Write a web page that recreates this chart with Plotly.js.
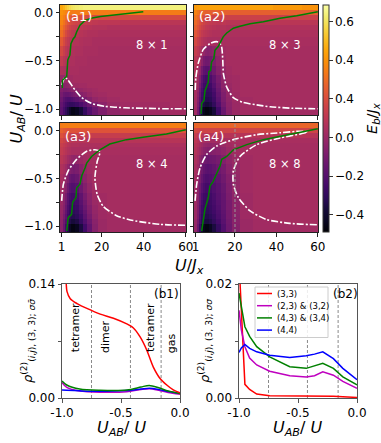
<!DOCTYPE html>
<html><head><meta charset="utf-8">
<script src="https://cdn.plot.ly/plotly-3.0.1.min.js"></script>
<style>html,body{margin:0;padding:0;background:#fff;overflow:hidden}#chart{width:381px;height:443px}</style>
</head><body><div id="chart"></div>
<script>
// ---------------- DATA ----------------
// heat-map grid (cell edges, data units)
const edgesU = [0.2,1.5,2.5,3.5,4.5,5.5,6.5,7.5,9,11,13,15.5,18.5,22.5,28.5,38.5,52.5,60.2];      // U/Jx
const edgesUAB = [-1.06,-0.975,-0.925,-0.875,-0.825,-0.775,-0.725,-0.65,-0.55,-0.45,-0.35,-0.25,-0.175,-0.125,-0.075,-0.025,0.025,0.08]; // U_AB/U
// rows bottom (-1.0) to top (0.05); columns U/Jx = 1,2,3,4,5,6,7,8,10,12,14,17,20,25,32,45,60
const Eb_8x1 = [
[-0.18,-0.24,-0.30,-0.35,-0.41,-0.45,-0.45,-0.43,-0.37,-0.29,-0.21,-0.14,-0.08,-0.03,0.00,0.01,0.02],
[-0.16,-0.21,-0.25,-0.28,-0.30,-0.30,-0.29,-0.27,-0.23,-0.19,-0.14,-0.08,-0.04,0.00,0.02,0.02,0.03],
[-0.13,-0.18,-0.21,-0.22,-0.22,-0.21,-0.19,-0.17,-0.14,-0.10,-0.06,-0.02,0.00,0.02,0.03,0.03,0.03],
[-0.10,-0.14,-0.15,-0.15,-0.14,-0.12,-0.10,-0.09,-0.06,-0.04,-0.01,0.01,0.02,0.03,0.03,0.03,0.03],
[-0.07,-0.09,-0.09,-0.08,-0.07,-0.05,-0.04,-0.03,-0.01,0.00,0.01,0.02,0.03,0.03,0.03,0.03,0.03],
[-0.04,-0.05,-0.04,-0.03,-0.01,0.00,0.01,0.01,0.02,0.02,0.03,0.03,0.03,0.03,0.03,0.03,0.03],
[-0.01,-0.01,0.00,0.01,0.02,0.02,0.03,0.03,0.03,0.03,0.03,0.03,0.03,0.03,0.03,0.03,0.03],
[0.06,0.05,0.04,0.04,0.04,0.04,0.04,0.04,0.03,0.03,0.03,0.03,0.03,0.03,0.03,0.03,0.03],
[0.12,0.09,0.07,0.06,0.05,0.05,0.05,0.04,0.04,0.04,0.03,0.03,0.03,0.03,0.03,0.03,0.03],
[0.18,0.14,0.10,0.08,0.07,0.06,0.06,0.05,0.05,0.04,0.04,0.04,0.03,0.03,0.03,0.03,0.03],
[0.24,0.19,0.14,0.11,0.09,0.08,0.07,0.07,0.06,0.05,0.05,0.04,0.04,0.04,0.04,0.04,0.04],
[0.30,0.25,0.19,0.15,0.13,0.11,0.10,0.09,0.08,0.07,0.06,0.06,0.05,0.05,0.05,0.05,0.05],
[0.33,0.28,0.23,0.19,0.16,0.14,0.13,0.12,0.10,0.09,0.08,0.07,0.07,0.06,0.06,0.06,0.06],
[0.36,0.32,0.27,0.23,0.20,0.18,0.17,0.16,0.14,0.13,0.12,0.11,0.10,0.10,0.09,0.09,0.09],
[0.38,0.35,0.31,0.28,0.26,0.24,0.23,0.22,0.21,0.20,0.19,0.19,0.18,0.18,0.18,0.18,0.18],
[0.40,0.38,0.36,0.35,0.34,0.34,0.34,0.34,0.34,0.34,0.34,0.34,0.34,0.34,0.34,0.34,0.34],
[0.45,0.48,0.52,0.55,0.58,0.60,0.61,0.62,0.63,0.64,0.64,0.64,0.64,0.64,0.64,0.64,0.64]];
const Eb_8x3 = [
[0.02,-0.10,-0.24,-0.36,-0.44,-0.46,-0.46,-0.44,-0.37,-0.26,-0.14,-0.05,0.00,0.02,0.02,0.02,0.02],
[0.03,-0.08,-0.20,-0.30,-0.35,-0.37,-0.37,-0.35,-0.30,-0.21,-0.11,-0.04,0.00,0.02,0.02,0.03,0.03],
[0.03,-0.06,-0.17,-0.27,-0.32,-0.33,-0.33,-0.32,-0.27,-0.18,-0.09,-0.03,0.01,0.02,0.03,0.03,0.03],
[0.04,-0.04,-0.15,-0.25,-0.30,-0.31,-0.31,-0.30,-0.25,-0.16,-0.08,-0.02,0.01,0.03,0.03,0.03,0.03],
[0.04,-0.02,-0.13,-0.23,-0.28,-0.29,-0.29,-0.28,-0.23,-0.14,-0.06,-0.01,0.02,0.03,0.03,0.03,0.03],
[0.05,0.00,-0.10,-0.20,-0.26,-0.27,-0.27,-0.26,-0.20,-0.12,-0.04,0.00,0.02,0.03,0.03,0.03,0.03],
[0.05,0.01,-0.07,-0.17,-0.23,-0.25,-0.25,-0.23,-0.17,-0.10,-0.03,0.01,0.02,0.03,0.03,0.03,0.03],
[0.07,0.04,-0.02,-0.11,-0.17,-0.19,-0.19,-0.17,-0.12,-0.06,-0.01,0.02,0.03,0.03,0.03,0.03,0.03],
[0.09,0.07,0.03,-0.04,-0.10,-0.12,-0.12,-0.11,-0.08,-0.03,0.01,0.03,0.03,0.03,0.03,0.03,0.03],
[0.13,0.10,0.07,0.03,-0.02,-0.05,-0.06,-0.05,-0.03,0.00,0.02,0.03,0.03,0.03,0.03,0.03,0.03],
[0.18,0.14,0.11,0.08,0.06,0.05,0.04,0.04,0.04,0.04,0.04,0.04,0.04,0.04,0.04,0.04,0.04],
[0.23,0.19,0.15,0.12,0.10,0.09,0.08,0.07,0.06,0.06,0.05,0.05,0.05,0.05,0.05,0.05,0.05],
[0.26,0.22,0.18,0.15,0.13,0.11,0.10,0.09,0.08,0.07,0.07,0.06,0.06,0.06,0.06,0.06,0.06],
[0.29,0.25,0.21,0.18,0.16,0.14,0.13,0.12,0.11,0.10,0.10,0.09,0.09,0.09,0.09,0.09,0.09],
[0.32,0.29,0.25,0.22,0.20,0.19,0.18,0.17,0.16,0.16,0.15,0.15,0.15,0.15,0.15,0.15,0.15],
[0.36,0.33,0.30,0.28,0.27,0.26,0.26,0.26,0.26,0.26,0.26,0.26,0.26,0.26,0.26,0.26,0.26],
[0.42,0.43,0.44,0.44,0.44,0.44,0.44,0.44,0.44,0.44,0.44,0.44,0.44,0.44,0.44,0.42,0.40]];
const Eb_8x4 = [
[-0.05,-0.14,-0.25,-0.34,-0.42,-0.46,-0.46,-0.44,-0.36,-0.26,-0.16,-0.06,0.00,0.02,0.02,0.02,0.02],
[-0.04,-0.12,-0.21,-0.29,-0.34,-0.37,-0.37,-0.35,-0.29,-0.21,-0.13,-0.05,0.00,0.02,0.02,0.03,0.03],
[-0.03,-0.10,-0.18,-0.26,-0.31,-0.33,-0.33,-0.31,-0.26,-0.18,-0.10,-0.03,0.01,0.02,0.03,0.03,0.03],
[-0.02,-0.08,-0.16,-0.24,-0.29,-0.31,-0.31,-0.29,-0.23,-0.16,-0.08,-0.02,0.01,0.03,0.03,0.03,0.03],
[-0.01,-0.06,-0.14,-0.22,-0.27,-0.29,-0.29,-0.27,-0.21,-0.14,-0.07,-0.01,0.02,0.03,0.03,0.03,0.03],
[0.00,-0.05,-0.12,-0.20,-0.25,-0.27,-0.27,-0.25,-0.19,-0.12,-0.05,0.00,0.02,0.03,0.03,0.03,0.03],
[0.01,-0.04,-0.10,-0.18,-0.23,-0.25,-0.25,-0.23,-0.17,-0.10,-0.04,0.01,0.02,0.03,0.03,0.03,0.03],
[0.02,-0.01,-0.06,-0.13,-0.19,-0.21,-0.21,-0.19,-0.13,-0.07,-0.02,0.02,0.03,0.03,0.03,0.03,0.03],
[0.04,0.01,-0.03,-0.08,-0.14,-0.16,-0.16,-0.14,-0.09,-0.04,0.00,0.03,0.03,0.03,0.03,0.03,0.03],
[0.06,0.04,0.01,-0.03,-0.07,-0.09,-0.10,-0.09,-0.05,-0.01,0.02,0.03,0.03,0.03,0.03,0.03,0.03],
[0.09,0.07,0.05,0.02,0.00,-0.02,-0.03,-0.02,0.00,0.02,0.03,0.03,0.03,0.03,0.03,0.03,0.03],
[0.12,0.10,0.08,0.06,0.05,0.04,0.04,0.04,0.04,0.04,0.04,0.04,0.04,0.04,0.04,0.04,0.04],
[0.14,0.12,0.10,0.08,0.07,0.06,0.06,0.06,0.05,0.05,0.05,0.05,0.05,0.05,0.05,0.05,0.05],
[0.17,0.15,0.13,0.11,0.10,0.09,0.09,0.08,0.08,0.08,0.08,0.08,0.08,0.08,0.08,0.08,0.08],
[0.21,0.19,0.17,0.15,0.14,0.13,0.13,0.13,0.13,0.13,0.13,0.13,0.13,0.13,0.13,0.13,0.13],
[0.26,0.24,0.23,0.22,0.22,0.22,0.22,0.22,0.22,0.22,0.22,0.22,0.22,0.22,0.22,0.22,0.22],
[0.34,0.35,0.35,0.35,0.35,0.35,0.35,0.35,0.35,0.35,0.35,0.35,0.35,0.35,0.35,0.35,0.35]];
const Eb_8x8 = [
[-0.02,-0.14,-0.28,-0.38,-0.44,-0.46,-0.46,-0.43,-0.36,-0.29,-0.21,-0.13,-0.06,0.00,0.02,0.02,0.02],
[-0.01,-0.11,-0.23,-0.31,-0.35,-0.36,-0.36,-0.34,-0.30,-0.25,-0.19,-0.12,-0.05,0.00,0.02,0.03,0.03],
[0.00,-0.09,-0.21,-0.29,-0.32,-0.33,-0.33,-0.31,-0.28,-0.23,-0.18,-0.11,-0.05,0.01,0.03,0.03,0.03],
[0.00,-0.08,-0.19,-0.27,-0.30,-0.31,-0.31,-0.29,-0.26,-0.22,-0.17,-0.11,-0.04,0.01,0.03,0.03,0.03],
[0.01,-0.07,-0.18,-0.26,-0.29,-0.30,-0.30,-0.28,-0.25,-0.21,-0.16,-0.10,-0.04,0.01,0.03,0.03,0.03],
[0.01,-0.06,-0.16,-0.24,-0.28,-0.29,-0.29,-0.27,-0.24,-0.20,-0.16,-0.10,-0.04,0.01,0.03,0.03,0.03],
[0.02,-0.05,-0.14,-0.22,-0.26,-0.27,-0.27,-0.26,-0.23,-0.19,-0.15,-0.09,-0.03,0.01,0.03,0.03,0.03],
[0.02,-0.04,-0.12,-0.19,-0.23,-0.25,-0.25,-0.24,-0.21,-0.18,-0.14,-0.08,-0.02,0.02,0.03,0.03,0.03],
[0.03,-0.02,-0.09,-0.15,-0.20,-0.22,-0.22,-0.21,-0.19,-0.16,-0.12,-0.07,-0.02,0.02,0.03,0.03,0.03],
[0.04,0.00,-0.06,-0.12,-0.16,-0.18,-0.19,-0.18,-0.16,-0.13,-0.10,-0.05,-0.01,0.02,0.03,0.03,0.03],
[0.05,0.02,-0.03,-0.07,-0.11,-0.13,-0.14,-0.13,-0.12,-0.10,-0.07,-0.03,0.00,0.02,0.03,0.03,0.03],
[0.07,0.04,0.01,-0.02,-0.05,-0.06,-0.07,-0.07,-0.06,-0.05,-0.03,0.00,0.02,0.03,0.03,0.03,0.03],
[0.08,0.06,0.03,0.01,-0.01,-0.02,-0.03,-0.03,-0.02,-0.01,0.00,0.02,0.03,0.03,0.03,0.03,0.03],
[0.10,0.08,0.06,0.04,0.03,0.02,0.02,0.02,0.02,0.03,0.03,0.04,0.04,0.04,0.04,0.04,0.04],
[0.13,0.11,0.10,0.09,0.08,0.08,0.08,0.08,0.08,0.08,0.08,0.08,0.08,0.08,0.08,0.08,0.08],
[0.18,0.17,0.16,0.16,0.16,0.16,0.16,0.16,0.16,0.16,0.16,0.16,0.16,0.16,0.16,0.16,0.16],
[0.28,0.28,0.28,0.28,0.28,0.28,0.28,0.28,0.28,0.28,0.28,0.28,0.28,0.28,0.28,0.28,0.28]];

// green lines (U/Jx, U_AB/U)
const g1x = [1.3,1.4,3.4,3.9,4.9,5.4,6.5,7.3,8.1,9.7,12.1,15.5,19.5,25,31,39.8];
const g1y = [-0.78,-0.70,-0.66,-0.49,-0.44,-0.32,-0.27,-0.25,-0.20,-0.13,-0.08,-0.055,-0.04,-0.025,-0.01,0.01];
const g2x = [3.6,3.9,5.0,5.5,7.1,7.4,8.2,8.7,9.8,10.3,11.9,12.7,14.3,16,19.2,22.4,27.3,33.7,41.8,49.8,60.0];
const g2y = [-1.05,-0.94,-0.91,-0.81,-0.72,-0.61,-0.60,-0.51,-0.475,-0.39,-0.35,-0.32,-0.25,-0.21,-0.16,-0.14,-0.115,-0.094,-0.058,-0.031,0.01];
const g3x = [3.4,4.1,5.7,6.2,7.8,8.1,9.7,10.5,12.1,12.9,15.2,19.2,23.9,31.8,39.7,50.8,60.0];
const g3y = [-1.05,-0.91,-0.875,-0.75,-0.70,-0.60,-0.56,-0.475,-0.39,-0.34,-0.27,-0.20,-0.14,-0.094,-0.07,-0.035,0.01];
const g4x = [3.9,4.7,5.5,7.1,7.9,9.5,11.2,12.8,13.6,16,19.2,25.7,33.7,41.8,49.8,60.0];
const g4y = [-1.05,-0.94,-0.82,-0.70,-0.58,-0.53,-0.44,-0.37,-0.30,-0.27,-0.20,-0.146,-0.094,-0.058,-0.024,0.02];
// white dash-dot lines
const w1x = [1.0,2.6,4.1,7.3,10.5,15.2,21.5,31,40,50,60];
const w1y = [-0.75,-0.67,-0.70,-0.80,-0.88,-0.94,-0.97,-0.985,-0.99,-0.995,-0.995];
const w2x = [0.8,1.1,2.3,4.7,7.9,11.0,12.5,13.6,14.1,14.4,16,19.2,24,32,37,48,60];
const w2y = [-0.80,-0.67,-0.52,-0.38,-0.32,-0.30,-0.31,-0.36,-0.49,-0.63,-0.77,-0.88,-0.93,-0.96,-0.975,-0.99,-0.995];
const w3x = [1.0,1.8,4.1,8.1,12.9,16.8,19.2,17.9,16.8,17.9,20.7,27.1,35,47.7,60];
const w3y = [-0.735,-0.56,-0.42,-0.30,-0.215,-0.20,-0.22,-0.32,-0.49,-0.67,-0.79,-0.89,-0.94,-0.98,-0.99];
const w4x = [0.7,1.5,3.1,6.3,11.2,19.2,30.5,41.8,51.4,55,52,41.8,30.5,22.4,19.2,19.2,21.6,27.3,35.3,46.6,60];
const w4y = [-0.735,-0.56,-0.39,-0.25,-0.16,-0.094,-0.042,-0.022,-0.006,-0.014,-0.032,-0.076,-0.146,-0.27,-0.42,-0.56,-0.70,-0.84,-0.93,-0.97,-0.985];
const a4Marker = [20];

// bottom panels
const b1RedX = [-0.967,-0.964,-0.958,-0.93,-0.873,-0.789,-0.676,-0.564,-0.451,-0.395,-0.338,-0.282,-0.226,-0.169,-0.112,-0.057,0.0];
const b1RedY = [0.16,0.14,0.131,0.122,0.116,0.110,0.103,0.098,0.091,0.086,0.075,0.059,0.038,0.024,0.016,0.010,0.0065];
const b1X = [-1.0,-0.96,-0.85,-0.68,-0.45,-0.33,-0.26,-0.18,-0.1,0.0];
const b1Green = [0.021,0.016,0.011,0.0095,0.0098,0.0135,0.0155,0.0125,0.0085,0.0055];
const b1Magenta = [0.019,0.013,0.0085,0.0072,0.0078,0.0105,0.0115,0.0095,0.0068,0.0045];
const b1Blue = [0.0098,0.0095,0.0088,0.0082,0.0092,0.011,0.012,0.0105,0.008,0.0058];
const b2X = [-1.0,-0.98,-0.95,-0.91,-0.85,-0.74,-0.57,-0.43,-0.36,-0.29,-0.2,-0.12,0.0];
const b2Red = [0.024,0.0143,0.0024,0.0015,0.0007,0.0004,0.00035,0.0004,0.0004,0.0004,0.0003,0.0002,0.0001];
const b2Magenta = [0.0154,0.0119,0.009,0.0070,0.0058,0.0047,0.0039,0.0037,0.0039,0.0046,0.0040,0.0029,0.0017];
const b2Green = [0.0184,0.0160,0.0125,0.0108,0.0090,0.0072,0.0055,0.0052,0.0057,0.0061,0.0052,0.0037,0.0023];
const b2Blue = [0.0080,0.0088,0.0094,0.0087,0.0081,0.0075,0.0071,0.0074,0.0077,0.0081,0.0069,0.0052,0.0032];
const phaseBounds = [-0.75,-0.42,-0.16];
const phaseNames = ['tetramer','dimer','tetramer','gas'];
const phaseX = [-0.88,-0.626,-0.245,-0.07];
const phaseY = [0.086,0.075,0.086,0.067];
const legendNames = ['(3,3)','(2,3) & (3,2)','(4,3) & (3,4)','(4,4)'];
const panelNames = ['(a1)','(a2)','(a3)','(a4)'];
const sizeNames = ['8 × 1','8 × 3','8 × 4','8 × 8'];
const cbMin = -0.49, cbMax = 0.686;
const cbTickVals = [-0.4,-0.2,0,0.2,0.4,0.6];
const cbTickText = ['−0.4','−0.2','0.0','0.4','0.4','0.6'];

// ---------------- STYLE ----------------
const W = 381, H = 443;
const PX = p => p / W, PY = p => 1 - p / H;
const FONT = 'DejaVu Sans, Liberation Sans, sans-serif';
const INFERNO = [[0,'#000004'],[0.05,'#0a0722'],[0.1,'#160b39'],[0.15,'#2d0b59'],[0.2,'#420a68'],[0.25,'#57106e'],[0.3,'#6a176e'],[0.35,'#7f1e6c'],[0.4,'#932667'],[0.45,'#a82e5f'],[0.5,'#bc3754'],[0.55,'#cc4248'],[0.6,'#dd513a'],[0.65,'#e8632c'],[0.7,'#f37819'],[0.75,'#f98e09'],[0.8,'#fca50a'],[0.85,'#f9be24'],[0.9,'#f6d746'],[0.95,'#f1ed71'],[1,'#fcffa4']];
const GREEN = '#008000', RED = '#ff0000', MAG = '#bf00bf', BLUE = '#0000ff';
const legendColors = [RED, MAG, GREEN, BLUE];

const colA = [PX(60), PX(186)], colB = [PX(194), PX(318)];
const rowTop = [PY(115), PY(5)], rowMid = [PY(232), PY(123)];
const b1Dom = [PX(62), PX(180)], b2Dom = [PX(239), PX(357)], rowBot = [PY(398), PY(284)];

const tickFont = {family: FONT, size: 12, color: '#000'};
function baseAxis(extra) {
  return Object.assign({showgrid:false, zeroline:false, showline:true, mirror:true,
    linecolor:'#222', linewidth:1, ticks:'outside', ticklen:3.5, tickwidth:1, tickcolor:'#222',
    tickfont: tickFont, tickmode:'array', fixedrange:true}, extra);
}
const hmXT = {tickvals:[1,20,40,60], ticktext:['1','20','40','60']};
const hmYT = {tickvals:[-1,-0.75,-0.5,-0.25,0], ticktext:['−1.0','','−0.5','','0.0']};

const heatPanels = [
  {z: Eb_8x1, xa:'x', ya:'y', gx:g1x, gy:g1y, wx:w1x, wy:w1y},
  {z: Eb_8x3, xa:'x2', ya:'y2', gx:g2x, gy:g2y, wx:w2x, wy:w2y},
  {z: Eb_8x4, xa:'x3', ya:'y3', gx:g3x, gy:g3y, wx:w3x, wy:w3y},
  {z: Eb_8x8, xa:'x4', ya:'y4', gx:g4x, gy:g4y, wx:w4x, wy:w4y}
];
const traces = [];
heatPanels.forEach((p, i) => {
  traces.push({type:'heatmap', x: edgesU, y: edgesUAB, z: p.z, xaxis:p.xa, yaxis:p.ya,
    colorscale: INFERNO, zmin: cbMin, zmax: cbMax, showscale: i === 0, hoverinfo:'skip',
    colorbar: {x: PX(322.5), xanchor:'left', xref:'paper', y: PY(5), yanchor:'top', yref:'paper',
      len: (232-5)/H, lenmode:'fraction', thickness:6, thicknessmode:'pixels', xpad:0, ypad:0,
      outlinewidth:1, outlinecolor:'#333', ticks:'outside', ticklen:3.5, tickcolor:'#333',
      tickfont: tickFont, tickmode:'array', tickvals: cbTickVals, ticktext: cbTickText}});
  traces.push({type:'scatter', mode:'lines', x:p.wx, y:p.wy, xaxis:p.xa, yaxis:p.ya, hoverinfo:'skip',
    line:{color:'#ffffff', width:1.6, dash:'7px,2px,2px,2px', shape:'spline', smoothing:0.6}});
  traces.push({type:'scatter', mode:'lines', x:p.gx, y:p.gy, xaxis:p.xa, yaxis:p.ya, hoverinfo:'skip',
    line:{color:GREEN, width:1.5}});
});
// b1
[[b1X,b1Magenta,MAG],[b1X,b1Blue,BLUE],[b1X,b1Green,GREEN],[b1RedX,b1RedY,RED]].forEach(s => {
  traces.push({type:'scatter', mode:'lines', x:s[0], y:s[1], xaxis:'x5', yaxis:'y5', hoverinfo:'skip',
    line:{color:s[2], width:1.5, shape:'spline', smoothing:0.8}});
});
// b2
[[b2Red,RED],[b2Magenta,MAG],[b2Green,GREEN],[b2Blue,BLUE]].forEach((s, i) => {
  traces.push({type:'scatter', mode:'lines', x:b2X, y:s[0], xaxis:'x6', yaxis:'y6', hoverinfo:'skip',
    name: legendNames[i], line:{color:s[1], width:1.5}});
});

const layout = {
  width: W, height: H, margin:{l:0,r:0,t:0,b:0}, showlegend:false,
  paper_bgcolor:'#fff', plot_bgcolor:'#fff', font:{family:FONT, color:'#000'},
  xaxis:  baseAxis(Object.assign({domain:colA, anchor:'y',  range:[0.2,60.1], showticklabels:false}, hmXT)),
  yaxis:  baseAxis(Object.assign({domain:rowTop, anchor:'x', range:[-1.06,0.08]}, hmYT)),
  xaxis2: baseAxis(Object.assign({domain:colB, anchor:'y2', range:[0.2,60.1], showticklabels:false}, hmXT)),
  yaxis2: baseAxis(Object.assign({domain:rowTop, anchor:'x2', range:[-1.06,0.08], showticklabels:false}, hmYT)),
  xaxis3: baseAxis(Object.assign({domain:colA, anchor:'y3', range:[0.2,60.1]}, hmXT)),
  yaxis3: baseAxis(Object.assign({domain:rowMid, anchor:'x3', range:[-1.06,0.08]}, hmYT)),
  xaxis4: baseAxis(Object.assign({domain:colB, anchor:'y4', range:[0.2,60.1]}, hmXT)),
  yaxis4: baseAxis(Object.assign({domain:rowMid, anchor:'x4', range:[-1.06,0.08], showticklabels:false}, hmYT)),
  xaxis5: baseAxis({domain:b1Dom, anchor:'y5', range:[-1,0], linecolor:'#555', tickcolor:'#555',
    tickvals:[-1,-0.5,0], ticktext:['-1.0','-0.5','0.0']}),
  yaxis5: baseAxis({domain:rowBot, anchor:'x5', range:[0,0.14], linecolor:'#555', tickcolor:'#555',
    tickvals:[0,0.07,0.14], ticktext:['0.00','','0.14']}),
  xaxis6: baseAxis({domain:b2Dom, anchor:'y6', range:[-1,0], linecolor:'#555', tickcolor:'#555',
    tickvals:[-1,-0.5,0], ticktext:['-1.0','-0.5','0.0']}),
  yaxis6: baseAxis({domain:rowBot, anchor:'x6', range:[0,0.02], linecolor:'#555', tickcolor:'#555',
    tickvals:[0,0.01,0.02], ticktext:['0.00','','0.02']}),
  shapes: [], annotations: []
};

// dashed phase boundaries
['x5','x6'].forEach(xa => phaseBounds.forEach(v => layout.shapes.push({type:'line', xref:xa,
  yref: xa.replace('x','y') + ' domain', x0:v, x1:v, y0:0, y1:1, layer:'below',
  line:{color:'#8a8a8a', width:1, dash:'3px,2px'}})));
a4Marker.forEach(v => layout.shapes.push({type:'line', xref:'x4', yref:'y4 domain', x0:v, x1:v, y0:0, y1:1,
  layer:'above', line:{color:'#9a9a9a', width:1, dash:'3px,2px'}}));

// manual legend in b2
layout.shapes.push({type:'rect', xref:'paper', yref:'paper', x0:PX(255), x1:PX(328), y0:PY(337.5), y1:PY(287),
  fillcolor:'rgba(255,255,255,0.85)', line:{color:'#cccccc', width:1}, layer:'above'});
legendNames.forEach((n, i) => {
  const yy = 293.5 + i * 12.2;
  layout.shapes.push({type:'line', xref:'paper', yref:'paper', x0:PX(257), x1:PX(272), y0:PY(yy), y1:PY(yy),
    line:{color:legendColors[i], width:1.5}, layer:'above'});
  layout.annotations.push({xref:'paper', yref:'paper', x:PX(275), y:PY(yy), text:n, showarrow:false,
    xanchor:'left', yanchor:'middle', font:{size:8.5, family:FONT}});
});

function ann(text, x, y, o) {
  layout.annotations.push(Object.assign({xref:'paper', yref:'paper', x:PX(x), y:PY(y), text:text,
    showarrow:false, xanchor:'center', yanchor:'middle'}, o || {}));
}
const panelPos = [[78.5,16],[211.5,16],[77.5,136],[211,136]];
const sizePos = [[152,45],[285,45],[152,164],[285,164]];
panelNames.forEach((n,i) => ann(n, panelPos[i][0], panelPos[i][1], {font:{size:13, color:'#fff', family:FONT}}));
sizeNames.forEach((n,i) => ann(n, sizePos[i][0], sizePos[i][1], {font:{size:11.5, color:'#fff', family:FONT}}));
ann('<i>U</i><sub><i>AB</i></sub>/ <i>U</i>', 17, 118.5, {textangle:-90, font:{size:16, family:FONT}});
ann('<i>U</i>/<i>J</i><sub><i>x</i></sub>', 189, 266, {font:{size:16, family:FONT}});
ann('<i>E</i><sub><i>b</i></sub>/<i>J</i><sub><i>x</i></sub>', 373, 118, {textangle:-90, font:{size:14.5, family:FONT}});
ann('<i>U</i><sub><i>AB</i></sub>/ <i>U</i>', 122, 428, {font:{size:16, family:FONT}});
ann('<i>U</i><sub><i>AB</i></sub>/ <i>U</i>', 298, 428, {font:{size:16, family:FONT}});
ann('<i>ρ</i><sup>(2)</sup><sub>(<i>i</i>,<i>j</i>), (3, 3); <i>σσ̄</i></sub>', 28, 341, {textangle:-90, font:{size:13, family:FONT}});
ann('<i>ρ</i><sup>(2)</sup><sub>(<i>i</i>,<i>j</i>), (3, 3); <i>σσ</i></sub>', 205, 341, {textangle:-90, font:{size:13, family:FONT}});
ann('(b1)', 166.5, 293.5, {font:{size:12, family:FONT}});
ann('(b2)', 345, 294, {font:{size:12, family:FONT}});
phaseNames.forEach((n,i) => layout.annotations.push({xref:'x5', yref:'y5', x:phaseX[i], y:phaseY[i], text:n,
  showarrow:false, textangle:-90, xanchor:'center', yanchor:'middle', font:{size:11, family:FONT}}));

Plotly.newPlot('chart', traces, layout, {displayModeBar:false, staticPlot:true});
</script></body></html>
